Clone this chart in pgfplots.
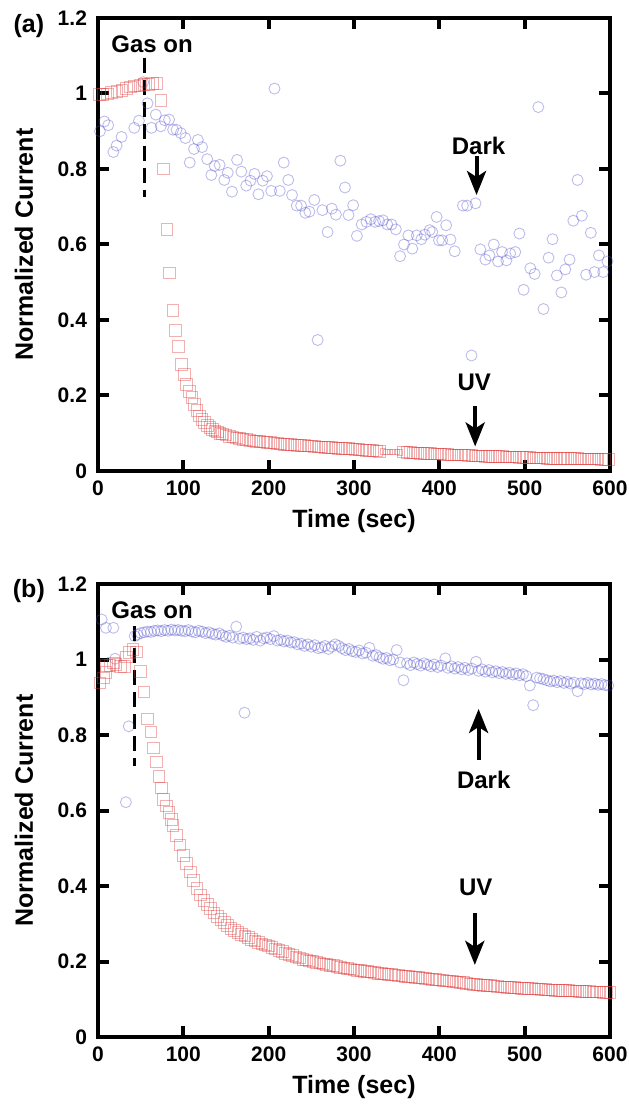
\documentclass[border=0pt]{standalone}
\usepackage{fontspec}
\setmainfont{Liberation Sans}
\usepackage{pgfplots}
\pgfplotsset{compat=1.18}
\usepackage{pgfplotstable}
\usetikzlibrary{arrows.meta}

\definecolor{darkc}{RGB}{80,80,205}
\definecolor{uvc}{RGB}{220,60,60}

% panel (a): UV
\pgfplotstableread{
t v
1.5 0.997
6 0.997
11 0.999
16 1.002
22 1.005
28 1.008
33 1.013
38 1.017
43 1.020
49 1.022
54 1.024
59 1.024
64 1.026
69 1.027
74 0.981
77 0.800
81 0.640
84 0.525
88 0.426
91 0.373
94 0.330
98 0.282
101 0.256
104 0.229
107 0.210
110 0.195
113 0.176
116 0.160
119 0.146
122 0.136
125 0.128
128 0.121
131 0.115
134 0.110
137 0.106
140 0.103
143 0.100
146 0.098
150 0.095
154 0.092
158 0.090
162 0.088
166 0.086
170 0.084
174 0.083
178 0.081
182 0.080
186 0.079
190 0.078
194 0.077
198 0.076
202 0.075
206 0.074
210 0.073
214 0.072
218 0.071
222 0.070
226 0.070
230 0.069
234 0.068
238 0.068
242 0.067
246 0.066
250 0.066
254 0.065
258 0.064
262 0.064
266 0.063
270 0.062
274 0.062
278 0.061
282 0.060
286 0.060
290 0.059
294 0.059
298 0.058
302 0.057
306 0.057
310 0.056
314 0.055
318 0.054
322 0.054
326 0.053
330 0.052
358 0.050
362 0.049
366 0.049
370 0.048
374 0.048
378 0.047
382 0.047
386 0.046
390 0.046
394 0.045
398 0.045
402 0.045
406 0.044
410 0.044
414 0.043
418 0.043
422 0.042
426 0.042
430 0.042
434 0.041
438 0.041
442 0.040
446 0.040
450 0.040
454 0.039
458 0.039
462 0.039
466 0.038
470 0.038
474 0.038
478 0.037
482 0.037
486 0.037
490 0.037
494 0.036
498 0.036
502 0.036
506 0.036
510 0.035
514 0.035
518 0.035
522 0.035
526 0.034
530 0.034
534 0.034
538 0.034
542 0.034
546 0.033
550 0.033
554 0.033
558 0.033
562 0.033
566 0.032
570 0.032
574 0.032
578 0.032
582 0.032
586 0.032
590 0.031
594 0.031
598 0.031
}\uvA

\pgfplotstableread{
t v
334 0.052
338 0.051
342 0.051
346 0.050
350 0.050
354 0.049
}\uvAgap

% panel (a): dark
\pgfplotstableread{
t v
2.3 0.900
7.4 0.926
12 0.916
18 0.845
21.8 0.862
27.6 0.885
42.5 0.909
48 0.928
53 1.030
58 0.974
62.7 0.909
67.8 0.944
73.6 0.913
78.3 0.929
83.3 0.931
88 0.904
92 0.904
97 0.895
102.4 0.882
107.5 0.817
112.5 0.853
117 0.877
122 0.858
128 0.826
132.8 0.784
136.7 0.808
142.5 0.811
148 0.771
152 0.790
157 0.740
163 0.824
168 0.793
173.7 0.756
178.7 0.769
183.4 0.787
188 0.733
193 0.769
198 0.781
203 0.742
206.8 1.013
213 0.742
217.7 0.817
223 0.771
227.4 0.731
232.9 0.703
238 0.703
243 0.684
247.7 0.687
253.5 0.718
257.4 0.347
263 0.691
269 0.633
274 0.695
278.8 0.679
284 0.822
289.4 0.751
293.6 0.678
299 0.704
303.4 0.623
309 0.653
314.6 0.660
319.7 0.667
324.8 0.660
329.4 0.662
334 0.664
339 0.653
344 0.653
349 0.640
354 0.569
358.6 0.600
363.7 0.624
368.3 0.589
373.5 0.624
378.9 0.614
383 0.626
388.7 0.638
391.7 0.633
396.8 0.673
399.5 0.611
403.4 0.611
408 0.651
413 0.613
418 0.582
427.6 0.703
432.6 0.703
437.7 0.306
442.4 0.709
448 0.587
454 0.560
458.7 0.571
463.8 0.600
468.8 0.555
473.5 0.580
478.6 0.558
483 0.576
489 0.580
493.8 0.629
498.8 0.480
506.6 0.537
511.7 0.522
516 0.964
522 0.429
528 0.565
532.7 0.614
537.7 0.518
543 0.473
547.6 0.534
552.6 0.560
557 0.663
562 0.771
567 0.676
572 0.520
577.5 0.631
581.8 0.527
587 0.571
592 0.527
597 0.555
}\darkA

% panel (b): UV
\pgfplotstableread{
t v
2.3 0.938
6.2 0.951
9.3 0.965
10 0.984
14 0.984
18 0.991
21 0.987
26 0.982
31 0.982
33 1.007
37 1.019
41 1.027
45 1.020
50 0.969
54 0.914
58 0.843
62 0.808
65 0.766
68.5 0.729
71.3 0.690
74.4 0.660
77 0.629
80 0.612
83 0.595
86 0.576
88 0.560
92 0.534
96 0.509
100 0.481
104 0.459
108 0.437
112 0.415
116 0.394
120 0.376
124 0.362
128 0.351
132 0.340
136 0.329
140 0.320
144 0.311
148 0.303
152 0.296
156 0.288
160 0.282
164 0.277
168 0.272
172 0.268
176 0.263
180 0.258
184 0.254
188 0.251
192 0.247
196 0.244
200 0.241
204 0.237
208 0.233
212 0.230
216 0.226
220 0.222
224 0.219
228 0.216
232 0.212
236 0.209
240 0.206
244 0.204
248 0.202
252 0.200
256 0.198
260 0.196
264 0.194
268 0.192
272 0.190
276 0.189
280 0.187
284 0.185
288 0.183
292 0.181
296 0.180
300 0.178
304 0.177
308 0.176
312 0.174
316 0.173
320 0.172
324 0.171
328 0.169
332 0.168
336 0.167
340 0.166
344 0.165
348 0.164
352 0.163
356 0.162
360 0.161
364 0.160
368 0.159
372 0.158
376 0.157
380 0.156
384 0.155
388 0.154
392 0.153
396 0.152
400 0.151
404 0.150
408 0.149
412 0.148
416 0.147
420 0.146
424 0.145
428 0.144
432 0.142
436 0.141
440 0.140
444 0.139
448 0.138
452 0.137
456 0.137
460 0.136
464 0.135
468 0.134
472 0.133
476 0.133
480 0.132
484 0.131
488 0.131
492 0.130
496 0.129
500 0.129
504 0.128
508 0.128
512 0.127
516 0.127
520 0.126
524 0.126
528 0.125
532 0.125
536 0.124
540 0.124
544 0.123
548 0.123
552 0.123
556 0.122
560 0.122
564 0.121
568 0.121
572 0.120
576 0.120
580 0.119
584 0.119
588 0.119
592 0.118
596 0.118
600 0.118
}\uvB

% panel (b): dark
\pgfplotstableread{
t v
4.3 1.106
9.3 1.084
18 1.084
20 1.002
32.7 0.622
36 0.823
43 1.062
46 1.066
50 1.070
54 1.072
58 1.074
62 1.073
66 1.076
70 1.077
74 1.075
78 1.078
82 1.076
86 1.079
90 1.077
94 1.078
98 1.076
102 1.075
106 1.078
110 1.074
114 1.072
118 1.076
122 1.074
126 1.070
130 1.072
134 1.068
138 1.066
142 1.069
146 1.064
150 1.060
154 1.063
158 1.058
162 1.087
166 1.055
170 1.058
171.7 0.859
174 1.054
178 1.056
182 1.052
186 1.060
190 1.050
194 1.056
198 1.058
202 1.054
206 1.062
210 1.050
214 1.052
218 1.048
222 1.050
226 1.045
230 1.046
234 1.040
238 1.042
242 1.036
246 1.040
250 1.034
254 1.038
258 1.030
262 1.032
266 1.036
270 1.028
274 1.034
278 1.040
282 1.036
286 1.030
290 1.025
294 1.028
298 1.022
302 1.020
306 1.024
310 1.016
314 1.018
318 1.031
322 1.010
326 1.012
330 1.006
334 1.002
338 1.004
342 0.998
346 1.000
350 1.025
354 0.992
358 0.945
362 0.990
366 0.985
370 0.992
374 0.988
378 0.984
382 0.990
386 0.986
390 0.982
394 0.987
398 0.980
402 0.984
407 1.003
410 0.978
414 0.982
418 0.976
422 0.980
426 0.974
430 0.978
434 0.972
438 0.976
443 0.994
446 0.970
450 0.974
454 0.968
458 0.972
462 0.966
466 0.969
470 0.964
474 0.967
478 0.962
482 0.965
486 0.960
490 0.963
494 0.958
498 0.961
502 0.956
506 0.931
510 0.879
514 0.952
518 0.950
522 0.948
526 0.945
530 0.942
534 0.944
538 0.940
542 0.943
546 0.938
550 0.941
554 0.936
558 0.939
562 0.916
566 0.937
570 0.935
574 0.938
578 0.934
582 0.936
586 0.933
590 0.935
594 0.932
598 0.931
}\darkB

\pgfplotsset{
  panel/.style={
    scale only axis, width=256pt, height=226.5pt,
    xmin=0, xmax=600, ymin=0, ymax=1.2,
    xtick={0,100,200,300,400,500,600},
    ytick={0,0.2,0.4,0.6,0.8,1,1.2},
    axis line style={line width=2pt},
    major tick length=5.5pt,
    tick style={line width=2pt, black},
    tick align=inside,
    clip=false,
    /pgf/number format/assume math mode=true,
    tick label style={font=\fontsize{10.5}{12}\selectfont\bfseries},
    xticklabel style={yshift=-1.5pt},
    yticklabel style={xshift=-2pt},
    label style={font=\fontsize{12.5}{15}\selectfont\bfseries},
    xlabel={Time (sec)},
    ylabel={Normalized Current},
    xlabel style={at={(axis description cs:0.5,-0.11)}, anchor=center},
    ylabel style={at={(axis description cs:-0.1445,0.5)}, anchor=center},
  },
  dark/.style={only marks, mark=o, mark size=2.75pt,
    mark options={draw=darkc, line width=0.45pt, draw opacity=0.38}},
  uv/.style={only marks, mark=square, mark size=2.9pt,
    mark options={draw=uvc, line width=0.45pt, draw opacity=0.4}},
}
\tikzset{
  ann/.style={font=\fontsize{12}{14}\selectfont\bfseries, inner sep=0pt},
  arr/.style={line width=2pt, -{Stealth[length=12pt, width=9.5pt, inset=3pt]}},
  gas/.style={line width=1.5pt, dash pattern=on 7.5pt off 3.5pt},
}

\begin{document}
\begin{tikzpicture}
\useasboundingbox (-49pt,-317.5pt) rectangle (265pt,235.5pt);

% (a)
\begin{axis}[panel, at={(0,0)}, anchor=south west]
\addplot[dark] table[x=t, y=v] {\darkA};
\addplot[uv] table[x=t, y=v] {\uvA};
\addplot[only marks, mark=square, mark size=1.3pt,
  mark options={draw=uvc, line width=0.45pt, draw opacity=0.4}] table[x=t, y=v] {\uvAgap};
\draw[gas] (axis cs:55,1.095) -- (axis cs:55,0.727);
\node[ann, anchor=west] at (axis cs:15.2,1.13) {Gas on};
\node[ann] at (axis cs:446,0.861) {Dark};
\draw[arr] (axis cs:443.6,0.834) -- (axis cs:443.6,0.731);
\node[ann] at (axis cs:441,0.235) {UV};
\draw[arr] (axis cs:442,0.171) -- (axis cs:442,0.065);
\node[font=\fontsize{12.5}{15}\selectfont\bfseries] at (rel axis cs:-0.135,0.983) {(a)};
\end{axis}

% (b)
\begin{axis}[panel, at={(0,-283pt)}, anchor=south west]
\addplot[dark] table[x=t, y=v] {\darkB};
\addplot[uv] table[x=t, y=v] {\uvB};
\draw[gas] (axis cs:43,1.088) -- (axis cs:43,0.717);
\node[ann, anchor=west] at (axis cs:15.2,1.131) {Gas on};
\node[ann] at (axis cs:452,0.682) {Dark};
\draw[arr] (axis cs:446,0.735) -- (axis cs:446,0.869);
\node[ann] at (axis cs:442.6,0.397) {UV};
\draw[arr] (axis cs:441.6,0.328) -- (axis cs:441.6,0.191);
\node[font=\fontsize{12.5}{15}\selectfont\bfseries] at (rel axis cs:-0.135,0.985) {(b)};
\end{axis}
\end{tikzpicture}
\end{document}
